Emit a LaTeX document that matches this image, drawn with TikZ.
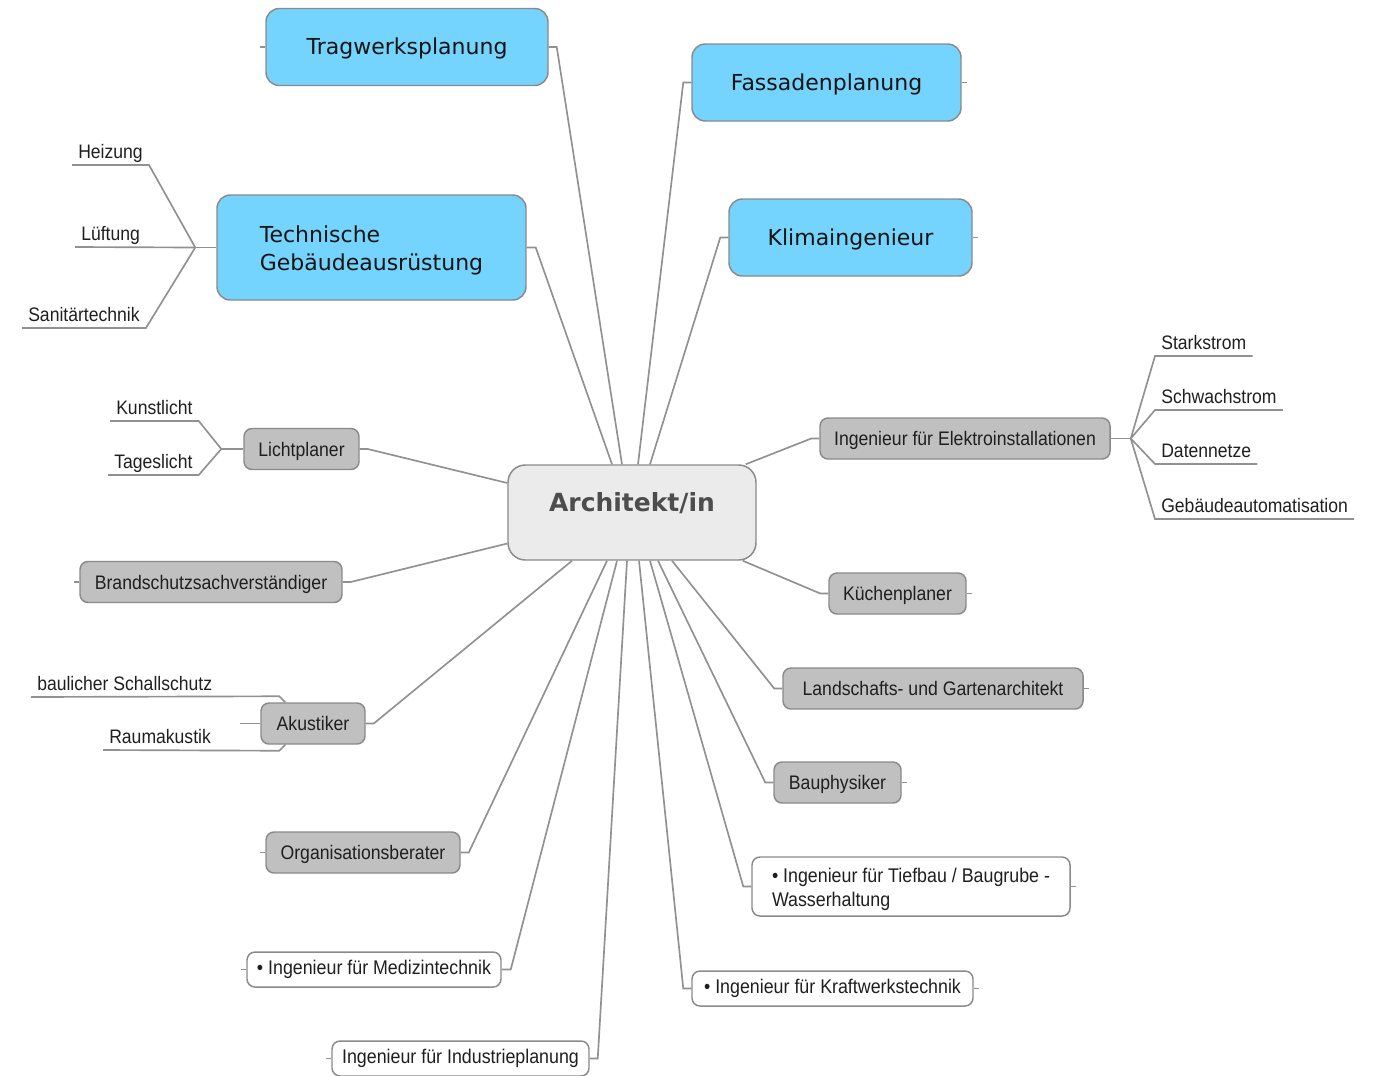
\documentclass[tikz,border=0pt]{standalone}
\usepackage{fontspec}
\usepackage{xcolor}
\usetikzlibrary{calc}
\setmainfont{Liberation Sans}[FakeStretch=0.9]
\newfontfamily\dejavu{DejaVu Sans}

\definecolor{linegray}{RGB}{145,145,145}
\definecolor{boxgray}{RGB}{138,138,138}
\definecolor{topicblue}{RGB}{117,212,253}
\definecolor{subgray}{RGB}{192,192,192}
\definecolor{archfill}{RGB}{235,235,235}
\definecolor{archtext}{RGB}{77,77,77}

\newcommand{\topictxt}{\dejavu\fontsize{16.5pt}{21pt}\selectfont}
\newcommand{\archtxt}{\dejavu\bfseries\fontsize{18.75pt}{22pt}\selectfont}
\newcommand{\subtxt}{\fontsize{14.7pt}{17pt}\selectfont}
\newcommand{\leaftxt}{\fontsize{14.65pt}{17pt}\selectfont}
\newcommand{\notetxt}{\fontsize{14.85pt}{18pt}\selectfont}

\begin{document}
\begin{tikzpicture}[x=0.75pt,y=-0.75pt,
  conn/.style={draw=linegray,line width=1.25pt},
  topic/.style={draw=boxgray,line width=1.1pt,fill=topicblue,rounded corners=10pt,
    minimum height=57.75pt,inner sep=0pt,font=\topictxt,text=black!92},
  sub/.style={draw=boxgray,line width=1.1pt,fill=subgray,rounded corners=6pt,
    minimum height=30.75pt,inner sep=0pt,text height=13.5pt,text depth=3pt,
    font=\subtxt,text=black!88},
  note/.style={draw=boxgray,line width=1.1pt,fill=white,rounded corners=6pt,
    minimum height=26.25pt,inner sep=0pt,font=\notetxt,text=black!88},
  leaf/.style={anchor=south west,inner xsep=4.5pt,inner ysep=1.5pt,
    text height=10pt,text depth=3pt,font=\leaftxt,text=black!88}]
\useasboundingbox (0,0) rectangle (1373,1075);

\node[draw=boxgray,line width=1.1pt,fill=archfill,rounded corners=13pt,
  minimum width=186pt,inner ysep=0pt,text height=34.5pt,text depth=36.75pt,
  font=\archtxt,text=archtext] (arch) at (632,512.5) {Architekt/in};

\node[topic,text height=14pt,text depth=2.5pt,minimum width=211.5pt] (tw) at (407,47) {Tragwerksplanung};
\node[topic,text height=14pt,text depth=2.5pt,minimum width=201.75pt] (fa) at (826.5,82.5) {Fassadenplanung};
\node[topic,minimum height=78.75pt,minimum width=231.75pt,align=left]
  (tga) at (371.5,247.5) {\rule{0pt}{16.7pt}Technische\\Gebäudeausrüstung};
\node[topic,text height=14pt,text depth=2.5pt,minimum width=182.25pt] (kl) at (850.5,237.5) {Klimaingenieur};

\node[sub,minimum width=86.25pt] (lp) at (301.5,449) {Lichtplaner};
\node[sub,minimum width=196.5pt] (bs) at (211,582) {Brandschutzsachverständiger};
\node[sub,minimum width=78pt] (ak) at (313,723.5) {Akustiker};
\node[sub,minimum width=145.5pt] (ob) at (363,852.5) {Organisationsberater};
\node[sub,minimum width=217.5pt] (el) at (965,438.5) {Ingenieur für Elektroinstallationen};
\node[sub,minimum width=102.75pt] (kp) at (897.5,593.5) {Küchenplaner};
\node[sub,minimum width=225pt] (lg) at (933,688.5) {Landschafts- und Gartenarchitekt};
\node[sub,minimum width=95.25pt] (bp) at (837.5,782.5) {Bauphysiker};

\node[note,minimum height=44.25pt,minimum width=238.5pt,align=left]
  (tb) at (911,886.5) {\rule{0pt}{15.5pt}• Ingenieur für Tiefbau / Baugrube -\\Wasserhaltung};
\node[note,minimum width=210.75pt] (kw) at (832.5,988.5) {• Ingenieur für Kraftwerkstechnik};
\node[note,minimum width=190.5pt] (mz) at (374,969.5) {• Ingenieur für Medizintechnik};
\node[note,minimum width=192.75pt] (ip) at (460.5,1058.5) {Ingenieur für Industrieplanung};

\node[leaf] (heiz) at (72,165) {Heizung};
\node[leaf] (lueft) at (75,247) {Lüftung};
\node[leaf] (sani) at (22,328) {Sanitärtechnik};
\node[leaf] (kunst) at (110,421) {Kunstlicht};
\node[leaf] (tages) at (108,475) {Tageslicht};
\node[leaf] (schall) at (31,697) {baulicher Schallschutz};
\node[leaf] (raum) at (103,750) {Raumakustik};
\node[leaf] (stark) at (1155,356) {Starkstrom};
\node[leaf] (schw) at (1155,410) {Schwachstrom};
\node[leaf] (daten) at (1155,464) {Datennetze};
\node[leaf] (geb) at (1155,519) {Gebäudeautomatisation};

\coordinate (tgaJ) at ($(tga.west)+(-21,0)$);
\coordinate (lpJ) at ($(lp.west)+(-22,0)$);
\coordinate (elJ) at ($(el.east)+(20,0)$);

\draw[conn] (tw.east) -- ++(8,0) -- ($(arch.north)+(-10,0)$);
\draw[conn] (tga.east) -- ++(9,0) -- ($(arch.north)+(-20,0)$);
\draw[conn] (fa.west) -- ++(-8,0) -- ($(arch.north)+(6,0)$);
\draw[conn] (kl.west) -- ++(-8,0) -- ($(arch.north)+(18,0)$);
\draw[conn] (lp.east) -- ++(8,0) -- ($(arch.west)+(0,-29.5)$);
\draw[conn] (bs.east) -- ++(8,0) -- ($(arch.west)+(0,31)$);
\draw[conn] (ak.east) -- ++(8,0) -- ($(arch.south)+(-60,0)$);
\draw[conn] (ob.east) -- ++(8,0) -- ($(arch.south)+(-25,0)$);
\draw[conn] (mz.east) -- ++(9,0) -- ($(arch.south)+(-15,0)$);
\draw[conn] (ip.east) -- ++(8,0) -- ($(arch.south)+(-5,0)$);
\draw[conn] (el.west) -- ++(-8,0) -- ($(arch.north east)+(-11,0)$);
\draw[conn] (kp.west) -- ++(-8,0) -- ($(arch.south east)+(-14,0)$);
\draw[conn] (lg.west) -- ++(-8,0) -- ($(arch.south)+(40,0)$);
\draw[conn] (bp.west) -- ++(-8,0) -- ($(arch.south)+(26,0)$);
\draw[conn] (tb.west) -- ++(-8,0) -- ($(arch.south)+(18,0)$);
\draw[conn] (kw.west) -- ++(-8,0) -- ($(arch.south)+(7,0)$);

\draw[conn] (tga.west) -- (tgaJ);
\draw[conn] (heiz.south west) -- (heiz.south east) -- (tgaJ);
\draw[conn] (lueft.south west) -- (tgaJ);
\draw[conn] (sani.south west) -- (sani.south east) -- (tgaJ);

\draw[conn] (lp.west) -- (lpJ);
\draw[conn] (kunst.south west) -- (kunst.south east) -- (lpJ);
\draw[conn] (tages.south west) -- (tages.south east) -- (lpJ);

\draw[conn] (ak.west) -- ++(-20,0);
\draw[conn] (schall.south west) -- ($(ak.north west)+(19,-6)$) -- ($(ak.north west)+(25,0)$);
\draw[conn] (raum.south west) -- ($(ak.south west)+(19,6)$) -- ($(ak.south west)+(25,0)$);

\draw[conn] (el.east) -- (elJ);
\foreach \l in {stark,schw,daten,geb}
  \draw[conn] (elJ) -- (\l.south west) -- (\l.south east);

\foreach \n in {tw,bs,ob,mz,ip}
  \draw[conn] (\n.west) -- ++(-5,0);
\foreach \n in {fa,kl,kp,lg,bp,tb,kw}
  \draw[conn] (\n.east) -- ++(5,0);
\end{tikzpicture}
\end{document}
